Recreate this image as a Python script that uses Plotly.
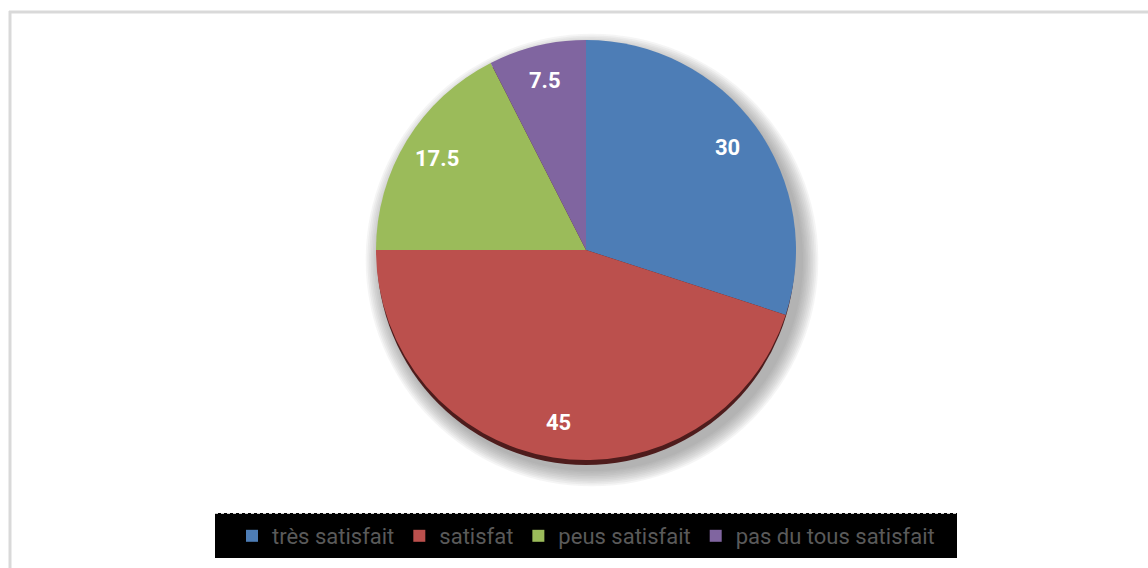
import math
import plotly.graph_objects as go

# Satisfaction survey shares
categories = ["très satisfait", "satisfat", "peus satisfait", "pas du tous satisfait"]
values = [30, 45, 17.5, 7.5]
colors = ["#4d7db6", "#bb504d", "#9bbb5a", "#8065a0"]

W, H = 1148, 568
CX, CY, R = 586, 250, 210  # pie centre and radius in pixels


def px_x(x):
    return x / W


def px_y(y):
    return 1 - y / H


fig = go.Figure(
    go.Pie(
        labels=categories,
        values=values,
        sort=False,
        direction="clockwise",
        rotation=0,
        textinfo="none",
        hoverinfo="label+value",
        marker=dict(colors=colors, line=dict(width=0)),
        domain=dict(x=[px_x(CX - R), px_x(CX + R)], y=[px_y(CY + R), px_y(CY - R)]),
    )
)

shapes = []
# soft drop shadow behind the pie
for i in range(10):
    rr = R + 1 + i * 1.7
    ox, oy = 6, 10
    shapes.append(dict(
        type="circle", xref="paper", yref="paper", layer="below",
        x0=px_x(CX + ox - rr), x1=px_x(CX + ox + rr),
        y0=px_y(CY + oy + rr), y1=px_y(CY + oy - rr),
        fillcolor="rgba(120,120,120,0.07)", line=dict(width=0),
    ))
# dark rim giving the pie some depth
shapes.append(dict(
    type="circle", xref="paper", yref="paper", layer="below",
    x0=px_x(CX - R + 1), x1=px_x(CX + R - 1),
    y0=px_y(CY + 5 + R), y1=px_y(CY + 5 - R),
    fillcolor="#4e1c1c", line=dict(width=0),
))
# legend band
shapes.append(dict(
    type="rect", xref="paper", yref="paper", layer="below",
    x0=px_x(215), x1=px_x(957), y0=px_y(558), y1=px_y(513),
    fillcolor="#000000", line=dict(width=0),
))
shapes.append(dict(
    type="line", xref="paper", yref="paper", layer="below",
    x0=px_x(215), x1=px_x(957), y0=px_y(513.5), y1=px_y(513.5),
    line=dict(color="#cfcfcf", width=1, dash="dot"),
))
# chart frame (top and left edges)
shapes.append(dict(
    type="line", xref="paper", yref="paper", layer="below",
    x0=px_x(9), x1=1, y0=px_y(12), y1=px_y(12),
    line=dict(color="#d9d9d9", width=3),
))
shapes.append(dict(
    type="line", xref="paper", yref="paper", layer="below",
    x0=px_x(10), x1=px_x(10), y0=0, y1=px_y(11),
    line=dict(color="#d9d9d9", width=3),
))

# value labels placed along each slice's mid-angle
annotations = []
total = sum(values)
start = 0.0
for v in values:
    mid = (start + v / 2) / total * 2 * math.pi
    start += v
    rad = 0.83 * R
    x = CX + rad * math.sin(mid)
    y = CY - rad * math.cos(mid)
    annotations.append(dict(
        x=px_x(x), y=px_y(y), xref="paper", yref="paper",
        text=f"{v:g}", showarrow=False,
        font=dict(family="Roboto", size=22, color="#ffffff", weight="bold"),
        xanchor="center", yanchor="middle",
    ))

fig.update_layout(
    width=W, height=H,
    margin=dict(l=0, r=0, t=0, b=0),
    paper_bgcolor="#ffffff",
    plot_bgcolor="#ffffff",
    shapes=shapes,
    annotations=annotations,
    showlegend=True,
    legend=dict(
        orientation="h",
        x=px_x(586), xanchor="center",
        y=px_y(536), yanchor="middle",
        bgcolor="rgba(0,0,0,0)",
        font=dict(family="Roboto, sans-serif", size=22, color="#5a5a5a"),
        traceorder="normal",
    ),
)

fig.write_html("out.html")
